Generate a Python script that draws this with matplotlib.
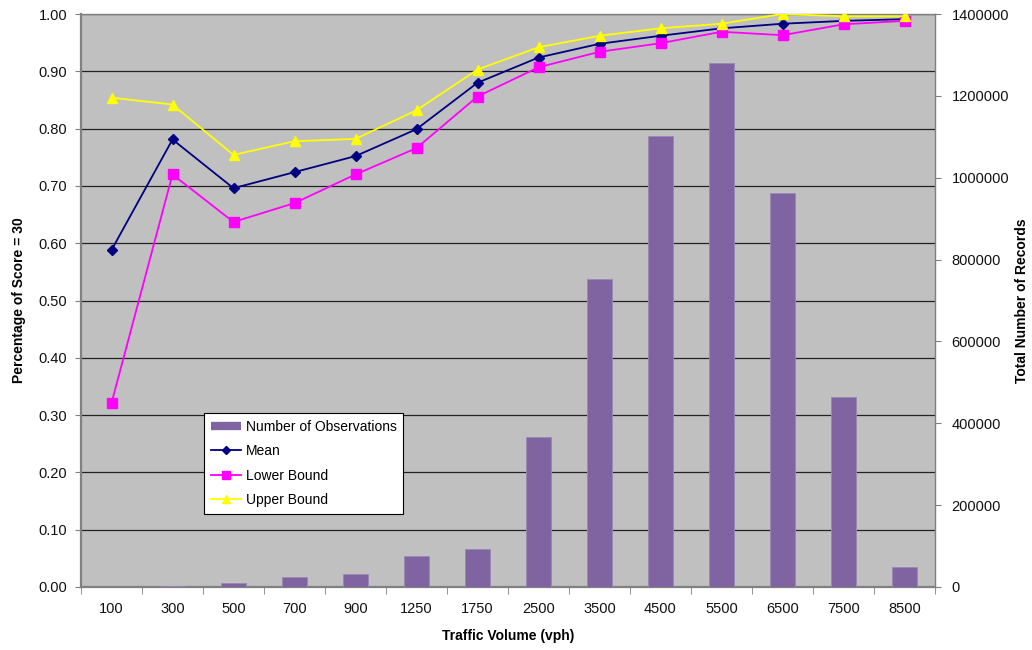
import matplotlib
matplotlib.use("Agg")
import matplotlib.pyplot as plt
from matplotlib.lines import Line2D
import numpy as np

plt.rcParams['font.family'] = ['Liberation Sans', 'DejaVu Sans']

volumes = ["100", "300", "500", "700", "900", "1250", "1750", "2500",
           "3500", "4500", "5500", "6500", "7500", "8500"]
observations = [0, 2500, 10600, 25200, 31000, 75700, 92800, 365700,
                752500, 1101900, 1280300, 961900, 464200, 49700]
mean_share = [0.588, 0.781, 0.696, 0.724, 0.752, 0.799, 0.880, 0.924,
              0.948, 0.962, 0.975, 0.983, 0.988, 0.991]
lower_bound = [0.321, 0.720, 0.637, 0.670, 0.720, 0.766, 0.856, 0.907,
               0.934, 0.949, 0.969, 0.963, 0.982, 0.988]
upper_bound = [0.854, 0.842, 0.754, 0.778, 0.782, 0.832, 0.903, 0.942,
               0.962, 0.975, 0.983, 1.000, 0.996, 0.996]
left_ticks = [0.0, 0.1, 0.2, 0.3, 0.4, 0.5, 0.6, 0.7, 0.8, 0.9, 1.0]
right_ticks = [0, 200000, 400000, 600000, 800000, 1000000, 1200000, 1400000]

FS = 10.5
FL = 10
fig = plt.figure(figsize=(10.32, 6.5), dpi=100)
ax = fig.add_axes([81 / 1032, 63 / 650, 854 / 1032, 573 / 650])
ax.set_facecolor('#C0C0C0')

x = np.arange(len(volumes))
grey = '#808080'

# percentage series on the left axis
ax.plot(x, mean_share, color='#000080', lw=1.3, marker='D', ms=5.5,
        markerfacecolor='#000080', markeredgecolor='#000080', label='Mean', zorder=3)
ax.plot(x, lower_bound, color='#FF00FF', lw=1.3, marker='s', ms=7,
        markerfacecolor='#FF00FF', markeredgecolor='#FF00FF', label='Lower Bound', zorder=3)
ax.plot(x, upper_bound, color='#FFFF00', lw=1.3, marker='^', ms=7.5,
        markerfacecolor='#FFFF00', markeredgecolor='#FFFF00', label='Upper Bound', zorder=3)

ax.set_ylim(0, 1.0)
ax.set_xlim(-0.5, len(volumes) - 0.5)
ax.set_yticks(left_ticks)
ax.set_yticklabels([f"{t:.2f}" for t in left_ticks], fontsize=FS, color='#111111')
ax.yaxis.grid(True, color='#222222', lw=0.9)
ax.set_axisbelow(True)
ax.tick_params(axis='y', direction='out', length=4, color=grey, pad=6)

ax.set_xticks(x)
ax.set_xticklabels(volumes, fontsize=FS, color='#111111')
ax.set_xticks(np.arange(-0.5, len(volumes), 1.0), minor=True)
ax.tick_params(axis='x', which='major', length=0, pad=11)
ax.tick_params(axis='x', which='minor', direction='out', length=5, color=grey)

for side in ['left', 'bottom']:
    ax.spines[side].set_color(grey)
    ax.spines[side].set_linewidth(1.6)
for side in ['top', 'right']:
    ax.spines[side].set_color(grey)
    ax.spines[side].set_linewidth(1.0)

ax.set_ylabel("Percentage of Score = 30", fontsize=FL, fontweight='bold', labelpad=9)
ax.set_xlabel("Traffic Volume (vph)", fontsize=FL, fontweight='bold', labelpad=9)

# record counts on the right axis
ax2 = ax.twinx()
ax2.bar(x, observations, width=0.4, color='#8064A2', edgecolor='#9A88B4',
        linewidth=0.6, label='Number of Observations', zorder=2)
ax2.set_ylim(0, 1400000)
ax2.set_yticks(right_ticks)
ax2.set_yticklabels([str(t) for t in right_ticks], fontsize=FS, color='#111111')
ax2.tick_params(axis='y', direction='out', length=4, color=grey, pad=8)
for side in ['left', 'bottom', 'top', 'right']:
    ax2.spines[side].set_visible(False)
ax2.set_ylabel("Total Number of Records", fontsize=FL, fontweight='bold', labelpad=4)

handles = [
    Line2D([0], [0], color='#8064A2', lw=6, solid_capstyle='butt'),
    Line2D([0], [0], color='#000080', lw=1.3, marker='D', ms=4.5),
    Line2D([0], [0], color='#FF00FF', lw=1.3, marker='s', ms=6),
    Line2D([0], [0], color='#FFFF00', lw=1.3, marker='^', ms=6),
]
labels = ["Number of Observations", "Mean", "Lower Bound", "Upper Bound"]
leg = ax2.legend(handles, labels, loc='upper left', bbox_to_anchor=(0.144, 0.304),
                 borderaxespad=0, fancybox=False, framealpha=1, edgecolor='black',
                 facecolor='white', fontsize=FL, handlelength=2.2, handletextpad=0.3,
                 labelspacing=0.75, borderpad=0.5)
leg.get_frame().set_linewidth(0.8)

fig.savefig("out.png", dpi=100)
